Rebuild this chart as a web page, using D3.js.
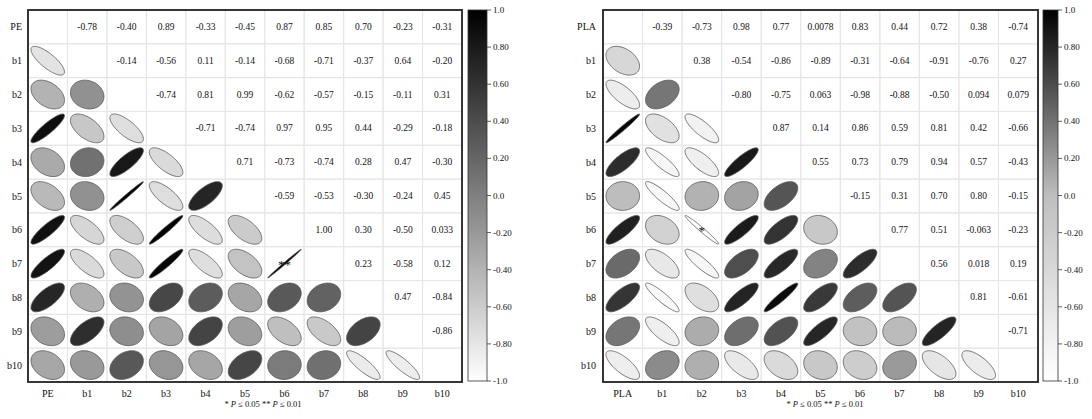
<!DOCTYPE html>
<html><head><meta charset="utf-8">
<script src="https://cdn.jsdelivr.net/npm/d3@7"></script>
<style>body{margin:0;background:#fff} svg text{font-family:"Liberation Serif","DejaVu Serif",serif;fill:#111}</style>
</head><body><svg id="c" width="1092" height="419" font-family="Liberation Serif, DejaVu Serif, serif"></svg>
<script>
// ---------- data ----------
const labelsPE = ["PE","b1","b2","b3","b4","b5","b6","b7","b8","b9","b10"];
// upper triangle rows (row i, columns i+1..10)
const corrPE = [
  [-0.78,-0.40,0.89,-0.33,-0.45,0.87,0.85,0.70,-0.23,-0.31],
  [-0.14,-0.56,0.11,-0.14,-0.68,-0.71,-0.37,0.64,-0.20],
  [-0.74,0.81,0.99,-0.62,-0.57,-0.15,-0.11,0.31],
  [-0.71,-0.74,0.97,0.95,0.44,-0.29,-0.18],
  [0.71,-0.73,-0.74,0.28,0.47,-0.30],
  [-0.59,-0.53,-0.30,-0.24,0.45],
  [1.00,0.30,-0.50,0.033],
  [0.23,-0.58,0.12],
  [0.47,-0.84],
  [-0.86]
];
const starsPE = [{row:"b7", col:"b6", mark:"**"}];

const labelsPLA = ["PLA","b1","b2","b3","b4","b5","b6","b7","b8","b9","b10"];
const corrPLA = [
  [-0.39,-0.73,0.98,0.77,0.0078,0.83,0.44,0.72,0.38,-0.74],
  [0.38,-0.54,-0.86,-0.89,-0.31,-0.64,-0.91,-0.76,0.27],
  [-0.80,-0.75,0.063,-0.98,-0.88,-0.50,0.094,0.079],
  [0.87,0.14,0.86,0.59,0.81,0.42,-0.66],
  [0.55,0.73,0.79,0.94,0.57,-0.43],
  [-0.15,0.31,0.70,0.80,-0.15],
  [0.77,0.51,-0.063,-0.23],
  [0.56,0.018,0.19],
  [0.81,-0.61],
  [-0.71]
];
const starsPLA = [{row:"b6", col:"b2", mark:"*"}];

const colorbarTicks = [1.0,0.8,0.6,0.4,0.2,0.0,-0.2,-0.4,-0.6,-0.8,-1.0];
const colorbarTickLabels = ["1.0","0.80","0.60","0.40","0.20","0.0","-0.20","-0.40","-0.60","-0.80","-1.0"];

// ---------- drawing ----------
const FONT = "Liberation Serif, DejaVu Serif, serif";
const svg = d3.select("#c");
const defs = svg.append("defs");

function fmt(v){
  if (Math.abs(v) >= 0.1) return v.toFixed(2);
  return String(+v.toPrecision(2));
}

function draw(cfg){
  const {labels, upper, stars, color, x0, x1, y0, y1, labelX, cbX, cbW, gid, noteX} = cfg;
  const n = labels.length;
  const val = (i,j) => i<j ? upper[i][j-i-1] : upper[j][i-j-1];
  const x = d3.scaleBand().domain(labels).range([x0,x1]);
  const y = d3.scaleBand().domain(labels).range([y0,y1]);
  const g = svg.append("g").attr("font-family", FONT);
  const bw = x.bandwidth(), bh = y.bandwidth();

  // grid
  labels.forEach(r => labels.forEach(c => {
    g.append("rect").attr("x", x(c)).attr("y", y(r)).attr("width", bw).attr("height", bh)
      .attr("fill","none").attr("stroke","#e6e6e6").attr("stroke-width",1);
  }));

  const ks = d3.range(0, 101).map(k => k/100*2*Math.PI);
  const line = d3.line();
  for (let i=0;i<n;i++){
    for (let j=0;j<n;j++){
      if (i===j) continue;
      const v = val(i,j);
      const cx = x(labels[j]) + bw/2, cy = y(labels[i]) + bh/2;
      if (j>i){
        g.append("text").attr("x",cx).attr("y",cy).attr("text-anchor","middle")
          .attr("dominant-baseline","central").attr("font-size","9.5px").text(fmt(v));
      } else {
        const a = Math.acos(Math.max(-0.996,Math.min(0.996,v)));
        const pts = ks.map(k => [cx + 0.85*bw*Math.cos(k + a/2)/2, cy - 0.85*bh*Math.cos(k - a/2)/2]);
        g.append("path").attr("d", line(pts)+"Z").attr("fill", color(v))
          .attr("stroke","#555").attr("stroke-width",0.8);
      }
    }
  }
  stars.forEach(s => {
    g.append("text").attr("x", x(s.col)+bw/2).attr("y", y(s.row)+bh/2+5)
      .attr("text-anchor","middle").attr("font-size","13px").attr("fill","#000").text(s.mark);
  });

  // frame
  g.append("rect").attr("x",x0).attr("y",y0).attr("width",x1-x0).attr("height",y1-y0)
    .attr("fill","none").attr("stroke","#222").attr("stroke-width",1.8);

  // labels
  labels.forEach(l => {
    g.append("text").attr("x",labelX).attr("y",y(l)+bh/2).attr("text-anchor","end")
      .attr("dominant-baseline","central").attr("font-size","10px").text(l);
    g.append("text").attr("x",x(l)+bw/2).attr("y",y1+11).attr("text-anchor","middle")
      .attr("dominant-baseline","central").attr("font-size","10px").text(l);
  });

  // colorbar
  const grad = defs.append("linearGradient").attr("id",gid).attr("x1",0).attr("x2",0).attr("y1",1).attr("y2",0);
  d3.range(0,21).forEach(k => {
    const t = k/20;
    grad.append("stop").attr("offset", t).attr("stop-color", color(-1+2*t));
  });
  const cy = d3.scaleLinear().domain([-1,1]).range([y1-1,y0]);
  g.append("rect").attr("x",cbX).attr("y",y0).attr("width",cbW).attr("height",y1-1-y0)
    .attr("fill",`url(#${gid})`).attr("stroke","#333").attr("stroke-width",0.8);
  colorbarTicks.forEach((t,i) => {
    g.append("line").attr("x1",cbX+cbW).attr("x2",cbX+cbW+4).attr("y1",cy(t)).attr("y2",cy(t))
      .attr("stroke","#333").attr("stroke-width",0.8);
    g.append("text").attr("x",cbX+cbW+6).attr("y",cy(t)).attr("dominant-baseline","central")
      .attr("font-size","9px").text(colorbarTickLabels[i]);
  });

  // footnote
  const note = g.append("text").attr("x",noteX).attr("y",407).attr("text-anchor","middle")
    .attr("font-size","8.5px");
  note.append("tspan").text("* ");
  note.append("tspan").attr("font-style","italic").text("P");
  note.append("tspan").text(" ≤ 0.05  ** ");
  note.append("tspan").attr("font-style","italic").text("P");
  note.append("tspan").text(" ≤ 0.01");
}

draw({labels:labelsPE, upper:corrPE, stars:starsPE,
  color: d3.scaleLinear().domain([-1,1]).range(["#ffffff","#000000"]),
  x0:28, x1:462, y0:10, y1:382, labelX:22, cbX:468, cbW:19, gid:"gPE", noteX:263});
draw({labels:labelsPLA, upper:corrPLA, stars:starsPLA,
  color: d3.scaleLinear().domain([-1,0,1]).range(["#ffffff","#bebebe","#000000"]),
  x0:603, x1:1038, y0:10, y1:382, labelX:596, cbX:1043, cbW:15, gid:"gPLA", noteX:825});
</script></body></html>
